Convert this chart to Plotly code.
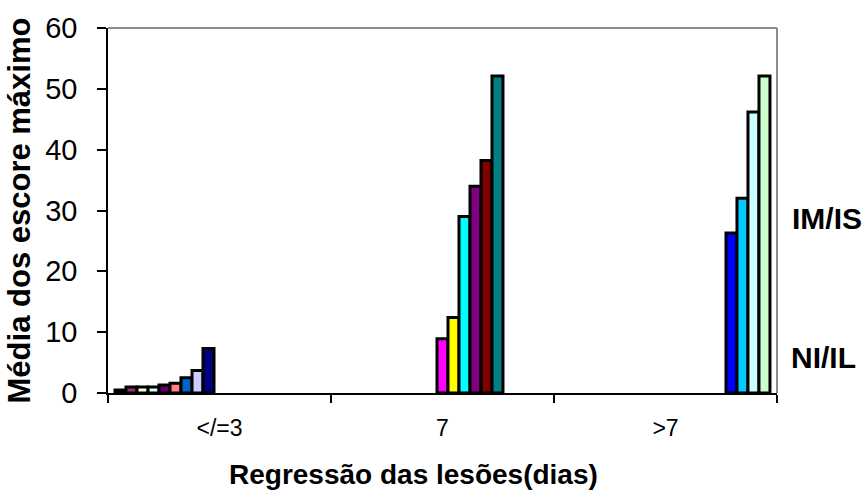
import plotly.graph_objects as go

categories = ["</=3", "7", ">7"]

# Series values, grouped by the category in which they appear
group1_values = [0.5, 1.0, 1.0, 1.0, 1.3, 1.6, 2.5, 3.7, 7.3]      # "</=3"
group2_values = [8.9, 12.4, 29.0, 34.0, 38.2, 52.1]                # "7"
group3_values = [26.3, 32.0, 46.2, 52.1]                           # ">7"

series_colors = [
    "#9999FF", "#993366", "#FFFFCC", "#CCFFFF", "#660066", "#FF8080",
    "#0066CC", "#CCCCFF", "#000080", "#FF00FF", "#FFFF00", "#00FFFF",
    "#800080", "#800000", "#008080", "#0000FF", "#00CCFF", "#CCFFFF",
    "#CCFFCC",
]

y_ticks = [0, 10, 20, 30, 40, 50, 60]
side_labels = ["IM/IS", "NI/IL"]
x_title = "Regressão das lesões(dias)"
y_title = "Média dos escore máximo"

FONT = "Liberation Sans, Arial, sans-serif"

fig = go.Figure()

series = []
for v in group1_values:
    series.append((0, v))
for v in group2_values:
    series.append((1, v))
for v in group3_values:
    series.append((2, v))

for i, (cat_idx, val) in enumerate(series):
    ys = [None] * len(categories)
    ys[cat_idx] = val
    fig.add_trace(go.Bar(
        x=categories, y=ys,
        marker=dict(color=series_colors[i], line=dict(color="black", width=3)),
        showlegend=False,
    ))

fig.update_layout(
    width=868, height=501,
    margin=dict(l=108, r=91, t=23, b=108),
    paper_bgcolor="white", plot_bgcolor="white",
    barmode="group", bargap=0.063, bargroupgap=0,
    font=dict(family=FONT, color="black"),
    xaxis=dict(
        type="category",
        showline=True, linecolor="black", linewidth=1.5,
        ticks="outside", tickson="boundaries", ticklen=8, tickcolor="black",
        tickwidth=1.5,
        tickfont=dict(size=23, family=FONT),
        ticklabelstandoff=14,
        showgrid=False, zeroline=False,
    ),
    yaxis=dict(
        range=[0, 60], tickvals=y_ticks,
        showline=True, linecolor="black", linewidth=1.5,
        ticks="outside", ticklen=9, tickcolor="black", tickwidth=1.5,
        tickfont=dict(size=29, family=FONT),
        ticklabelstandoff=14,
        showgrid=False, zeroline=False,
        title=dict(text=y_title,
                   font=dict(size=31, family=FONT, weight="bold"),
                   standoff=5),
    ),
    shapes=[
        dict(type="line", xref="paper", yref="paper", x0=0, x1=1, y0=1, y1=1,
             line=dict(color="#8c8c8c", width=2), layer="below"),
        dict(type="line", xref="paper", yref="paper", x0=1, x1=1, y0=0, y1=1,
             line=dict(color="#8c8c8c", width=2), layer="below"),
    ],
    annotations=[
        dict(text=x_title, xref="paper", yref="paper", x=0.456, y=-0.222,
             xanchor="center", yanchor="middle", showarrow=False,
             font=dict(size=28, family=FONT, weight="bold")),
        dict(text=side_labels[0], xref="paper", yref="paper", x=1.02, y=0.478,
             xanchor="left", yanchor="middle", showarrow=False,
             font=dict(size=30, family=FONT, weight="bold")),
        dict(text=side_labels[1], xref="paper", yref="paper", x=1.018, y=0.097,
             xanchor="left", yanchor="middle", showarrow=False,
             font=dict(size=30, family=FONT, weight="bold")),
    ],
)

fig.write_html("out.html")
